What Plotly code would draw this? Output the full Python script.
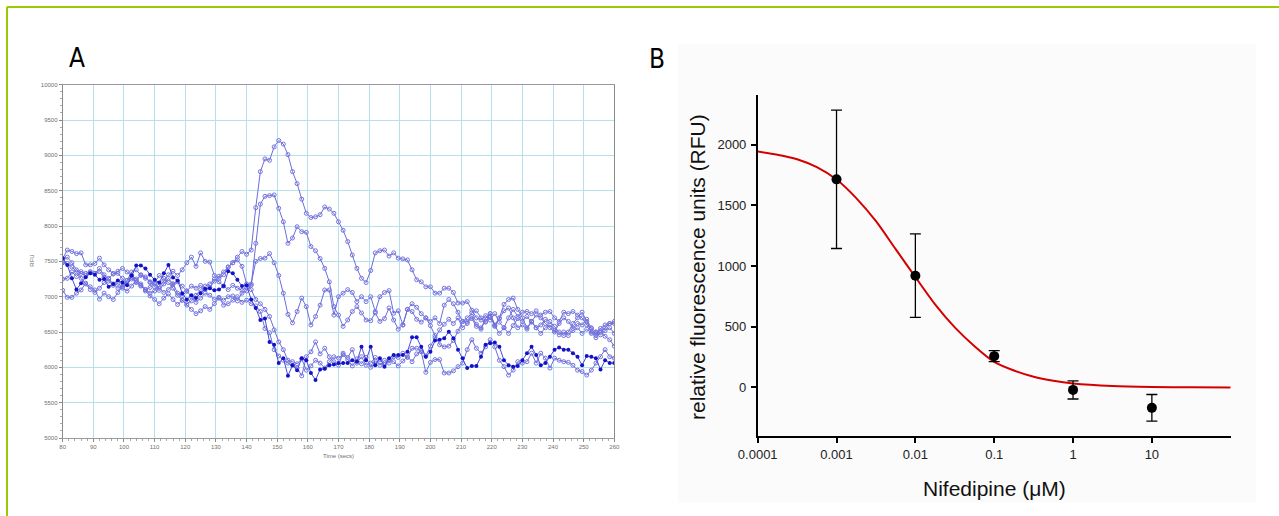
import plotly.graph_objects as go

W, H = 1279, 516

# ---------------- Panel A: fluorescence traces (RFU vs time) ----------------
# samples every 1.5 s from 80 s to 260 s (121 points per well)
time_s = [80 + 1.5 * i for i in range(121)]

well_1 = [
    7250, 7260, 7350, 7285, 7355, 7330, 7355, 7330, 7355, 7275,
    7220, 7160, 7190, 7120, 7080, 7150, 7230, 7310, 7280, 7200,
    7140, 7090, 7180, 7260, 7180, 7050, 7010, 7080, 7150, 7120,
    7160, 7100, 7130, 7220, 7290, 7350, 7420, 7480, 7560, 7640,
    7600, 7660, 8260, 8770, 8950, 8930, 9120, 9210, 9160, 9010,
    8770, 8600, 8380, 8180, 8120, 8130, 8160, 8270, 8240, 8180,
    8060, 7940, 7780, 7590, 7400, 7260, 7200, 7370, 7620, 7650,
    7660, 7575, 7620, 7545, 7535, 7520, 7380, 7240, 7210, 7140,
    7140, 7050, 7050, 7120, 7120, 7060, 6910, 6910, 6930, 6810,
    6700, 6670, 6730, 6670, 6760, 6640, 6560, 6700, 6820, 6720,
    6780, 6790, 6760, 6800, 6740, 6780, 6790, 6700, 6650, 6780,
    6760, 6790, 6740, 6700, 6600, 6560, 6500, 6520, 6440, 6390,
    6300,
]
well_2 = [
    7090, 6990, 6990, 7050, 7095, 7190, 7140, 7095, 6965, 7050,
    7000, 6960, 7060, 7140, 7230, 7280, 7200, 7160, 7080, 7010,
    6960, 6900, 6980, 7040, 6960, 6890, 6950, 6880, 6820, 6760,
    6800, 6860, 6820, 6900, 6980, 6950, 7000, 7010, 6940, 7050,
    7080, 7160, 7755, 8310, 8420, 8430, 8440, 8250, 8060, 7755,
    7830, 7990, 7920, 7910, 7710, 7650, 7540, 7400, 7210, 6860,
    6740, 6580, 6670, 6790, 6860, 6770, 6670, 6660, 6770, 6650,
    6690, 6840, 6670, 6540, 6600, 6820, 6790, 6680, 6640, 6700,
    6590, 6450, 6320, 6290, 6300, 6380, 6510, 6650, 6640, 6720,
    6610, 6560, 6650, 6720, 6580, 6690, 6800, 6840, 6700, 6560,
    6600, 6540, 6650, 6560, 6480, 6560, 6600, 6520, 6460, 6500,
    6450, 6520, 6560, 6480, 6540, 6480, 6500, 6460, 6520, 6560,
    6480,
]
well_3 = [
    7540, 7660, 7640, 7610, 7620, 7450, 7450, 7470, 7545, 7450,
    7380, 7330, 7330, 7260, 7180, 7250, 7210, 7150, 7100, 7130,
    7200, 7300, 7260, 7200, 7120, 7020, 6950, 6900, 6940, 7020,
    7100, 7150, 7180, 7250, 7210, 7150, 7100, 7160, 7120, 7090,
    7130, 7180, 7500, 7540, 7545, 7610, 7480, 7300, 7050, 6750,
    6630, 6790, 6980, 6860, 6600, 6720, 6880, 7095, 7095, 6740,
    7000, 7050, 7100, 7060, 6930, 7000, 6930, 7000, 6790, 7000,
    7060, 7085, 6765, 6800, 6600, 6820, 6900, 6850, 6760, 6700,
    6650, 6700, 6620, 6880, 6960, 6900, 6780, 6650, 6700, 6770,
    6800, 6700, 6640, 6760, 6600, 6700, 6890, 6960, 6980, 6820,
    6700, 6560, 6650, 6740, 6700, 6620, 6560, 6500, 6620, 6700,
    6650, 6550, 6620, 6600, 6680, 6550, 6450, 6550, 6600, 6620,
    6650,
]
well_4 = [
    7545, 7450, 7260, 7100, 7190, 7275, 7330, 7310, 7240, 7250,
    7140, 7180, 7230, 7200, 7160, 7300, 7440, 7440, 7400, 7310,
    7240, 7200, 7330, 7450, 7270, 7230, 7050, 6960, 7020, 6980,
    7050, 7110, 7120, 7090, 7100, 7150, 7360, 7330, 7240, 7150,
    7160, 6960, 6840, 6670, 6690, 6360, 6320, 6060, 6130, 5880,
    6030, 5960, 6130, 6100, 5920, 5820, 5970, 5980, 6030, 6040,
    6060, 6060, 6060, 6100, 6080, 6290, 6100, 6290, 6030, 6130,
    6010, 6130, 6175, 6175, 6175, 6220, 6425, 6425, 6290, 6150,
    6220, 6380, 6390, 6410, 6505, 6410, 6250, 6130, 5990, 6020,
    6020, 6150, 6320, 6340, 6350, 6290, 6100, 6030, 6010, 6020,
    6100, 6200, 6290, 6175, 6030, 6060, 6150, 6250, 6280, 6250,
    6250, 6200, 6150, 6030, 6160, 6150, 6130, 5970, 6100, 6060,
    6060,
]
well_5 = [
    7500, 7560, 7480, 7380, 7330, 7300, 7340, 7330, 7400, 7310,
    7250, 7180, 7120, 7150, 7230, 7350, 7380, 7300, 7260, 7210,
    7180, 7120, 7060, 7100, 7180, 7210, 7150, 7080, 7000, 6920,
    6980, 7050, 7020, 6960, 6990, 6880, 6900, 6950, 7000, 6920,
    6950, 6900, 6870, 6790, 6550, 6490, 6250, 6160, 6100, 6060,
    6030, 5990, 5880, 6150, 6220, 6360, 6190, 6270, 6150, 6080,
    6030, 6200, 6140, 6250, 6060, 6150, 6030, 6060, 6140, 6030,
    6100, 6060, 6150, 6140, 6200, 6140, 6270, 6270, 6220, 5930,
    6070, 6110, 6110, 5920, 5920, 5950, 6010, 6060, 6250, 6390,
    6270, 6200, 6290, 6390, 6290, 6100, 6010, 5890, 5960, 6080,
    6060, 6080, 6200, 6060, 6200, 6130, 5990, 6130, 6100, 6080,
    6070, 6030, 5960, 5940, 5890, 5960, 6060, 6150, 6250, 6150,
    6130,
]
well_6 = [
    7480, 7470, 7420, 7350, 7260, 7180, 7100, 7060, 7120, 7200,
    7260, 7320, 7360, 7400, 7350, 7300, 7250, 7180, 7100, 7050,
    7080, 7150, 7220, 7310, 7360, 7300, 7380, 7480, 7560, 7430,
    7620, 7500, 7490, 7300, 7260, 7310, 7420, 7480, 7520, 7430,
    7180, 7100, 6960, 6900, 6820, 6720, 6530, 6360, 6250, 6100,
    6080, 6050, 6120, 5960, 6020, 6100, 6060, 5990, 6080, 6150,
    6130, 6180, 6110, 6020, 6120, 6050, 6140, 6000, 6060, 6110,
    6040, 6110, 6080, 6020, 6090, 6150, 6080, 6190, 6240, 6160,
    6300, 6420, 6530, 6610, 6680, 6620, 6700, 6560, 6620, 6690,
    6580, 6540, 6700, 6760, 6590, 6480, 6560, 6480, 6590, 6690,
    6650, 6720, 6640, 6560, 6600, 6680, 6650, 6580, 6500, 6450,
    6500, 6620, 6700, 6780, 6650, 6500, 6420, 6500, 6560, 6620,
    6620,
]

open_wells = [well_1, well_2, well_3, well_5, well_6]
filled_wells = [well_4]

# ---------------- Panel B: nifedipine concentration-response ----------------
nifedipine_uM = [0.001, 0.01, 0.1, 1, 10]
rfu_mean = [1715, 921, 258, -20, -168]
rfu_sem = [570, 344, 45, 75, 110]

# fitted curve, sampled every quarter decade of concentration
fit_log_conc = [-4, -3.75, -3.5, -3.25, -3, -2.75, -2.5, -2.25, -2, -1.75,
                -1.5, -1.25, -1, -0.75, -0.5, -0.25, 0, 0.5, 1, 1.5, 2]
fit_rfu = [1944, 1918, 1880, 1815, 1713, 1560, 1370, 1140, 910, 685,
           495, 340, 211, 140, 88, 55, 33, 12, 4, 1, 0]

x_ticks_b = [0.0001, 0.001, 0.01, 0.1, 1, 10]
x_ticktext_b = ["0.0001", "0.001", "0.01", "0.1", "1", "10"]
y_ticks_b = [0, 500, 1000, 1500, 2000]

fig = go.Figure()

LINE_A = "#6c6cdc"
for w in open_wells:
    fig.add_trace(go.Scatter(
        x=time_s, y=w, mode="lines+markers", xaxis="x", yaxis="y",
        line=dict(color=LINE_A, width=1),
        marker=dict(symbol="circle-open", size=4, color="#7474de",
                    line=dict(width=1, color="#7474de")),
        hoverinfo="skip"))
for w in filled_wells:
    fig.add_trace(go.Scatter(
        x=time_s, y=w, mode="lines+markers", xaxis="x", yaxis="y",
        line=dict(color="#4a4ad6", width=1),
        marker=dict(symbol="circle", size=4, color="#1212c8"),
        hoverinfo="skip"))

# Panel B traces
fig.add_trace(go.Scatter(
    x=[10 ** v for v in fit_log_conc], y=fit_rfu, mode="lines",
    xaxis="x2", yaxis="y2",
    line=dict(color="#d40000", width=2, shape="spline", smoothing=0.8),
    hoverinfo="skip"))
fig.add_trace(go.Scatter(
    x=nifedipine_uM, y=rfu_mean, mode="markers", xaxis="x2", yaxis="y2",
    marker=dict(symbol="circle", size=10, color="black"),
    error_y=dict(type="data", array=rfu_sem, visible=True,
                 color="black", thickness=1.3, width=5.5),
    hoverinfo="skip"))

def px(x):
    return x / W

def py(y):
    return 1 - y / H

small = dict(family="Arial, Liberation Sans, sans-serif", size=6, color="#707070")
big = dict(family="Arial, Liberation Sans, sans-serif", size=13, color="#222222")

fig.update_layout(
    width=W, height=H, autosize=False,
    margin=dict(l=0, r=0, t=0, b=0, pad=0, autoexpand=False),
    paper_bgcolor="white", plot_bgcolor="rgba(0,0,0,0)",
    showlegend=False,
    xaxis=dict(
        domain=[px(62.7), px(614.3)], range=[80, 260], anchor="y",
        automargin=False,
        tick0=80, dtick=10, showgrid=True, gridcolor="#b6e0ee", gridwidth=1,
        zeroline=False, showline=True, linecolor="#9a9a9a", linewidth=1,
        mirror=True, ticks="outside", ticklen=3, tickcolor="#8a8a8a",
        tickfont=small,
        minor=dict(dtick=2, ticks="outside", ticklen=2, tickcolor="#aaaaaa",
                   showgrid=False)),
    yaxis=dict(
        domain=[py(438), py(84.7)], range=[5000, 10000], anchor="x",
        automargin=False,
        tick0=5000, dtick=500, tickformat="d", showgrid=True,
        gridcolor="#b6e0ee", gridwidth=1, zeroline=False, showline=True,
        linecolor="#8a8a8a", linewidth=1, mirror=True, ticks="outside",
        ticklen=3, tickcolor="#8a8a8a", tickfont=small,
        minor=dict(dtick=100, ticks="outside", ticklen=2, tickcolor="#aaaaaa",
                   showgrid=False)),
    xaxis2=dict(
        domain=[px(757.7), px(1230.7)], type="log", range=[-4, 2],
        anchor="y2", automargin=False,
        tickvals=x_ticks_b, ticktext=x_ticktext_b,
        showgrid=False, zeroline=False, showline=True, linecolor="black",
        linewidth=1.5, ticks="outside", ticklen=5, tickwidth=1.5,
        tickcolor="black", tickfont=big, ticklabelstandoff=1),
    yaxis2=dict(
        domain=[py(436), py(95)], range=[-400, 2410], anchor="x2",
        automargin=False,
        tickvals=y_ticks_b, tickformat="d", showgrid=False, zeroline=False,
        showline=True, linecolor="black", linewidth=1.5, ticks="outside",
        ticklen=5, tickwidth=1.5, tickcolor="black", tickfont=big,
        ticklabelstandoff=2),
)

shapes = [
    # light backdrop of panel B
    dict(type="rect", xref="paper", yref="paper", layer="below",
         x0=px(678), x1=px(1256), y0=py(502.5), y1=py(44),
         fillcolor="#fbfbfb", line=dict(width=0)),
    # outer frame (top and left edges)
    dict(type="line", xref="paper", yref="paper",
         x0=px(7), x1=px(1279), y0=py(7), y1=py(7),
         line=dict(color="#99cc00", width=2)),
    dict(type="line", xref="paper", yref="paper",
         x0=px(7), x1=px(7), y0=py(7), y1=py(516),
         line=dict(color="#99cc00", width=2)),
]
fig.update_layout(shapes=shapes)

label_font = dict(family="DejaVu Sans Condensed, Liberation Sans Narrow, Arial",
                  size=26, color="black")
title_font = dict(family="Arial, Liberation Sans, sans-serif", size=21,
                  color="#111111")

annotations = [
    dict(text="A", x=px(76.7), y=py(58), font=label_font),
    dict(text="B", x=px(656.7), y=py(59), font=label_font),
    dict(text="RFU", x=px(31.7), y=py(261), textangle=-90, font=small),
    dict(text="Time (secs)", x=px(338.5), y=py(455.5), font=small),
    dict(text="relative fluorescence units (RFU)", x=px(697), y=py(267),
         textangle=-90, font=title_font),
    dict(text="Nifedipine (\u03bcM)", x=px(994.4), y=py(488), font=title_font),
]
for a in annotations:
    a.update(xref="paper", yref="paper", showarrow=False,
             xanchor="center", yanchor="middle")
fig.update_layout(annotations=annotations)

fig.write_html("out.html")
